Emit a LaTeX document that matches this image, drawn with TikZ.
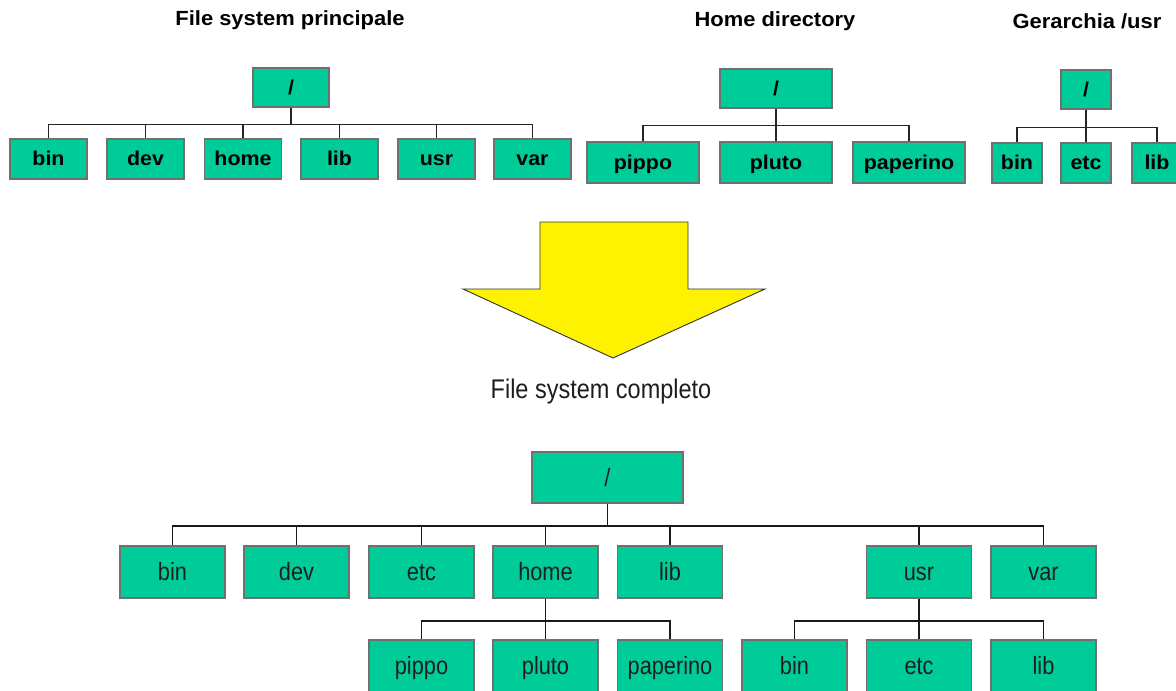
\documentclass[tikz,border=0pt]{standalone}
\usepackage{fontspec}
\setmainfont{Liberation Sans}
\newfontfamily\topfont[FakeStretch=1.07]{Liberation Sans}
\newfontfamily\botfont[FakeStretch=0.87]{Liberation Sans}
\usetikzlibrary{calc}
\definecolor{boxgreen}{RGB}{0,204,153}
\definecolor{boxgray}{RGB}{112,112,112}
\definecolor{txtgray}{RGB}{30,30,30}
\begin{document}
\begin{tikzpicture}[x=1pt,y=-1pt,
  fork/.style={to path={(\tikztostart) -- ++(0,#1) -| (\tikztotarget)}},
  tbox/.style={draw=boxgray,fill=boxgreen,line width=1.2pt,inner sep=0pt,
    minimum height=39pt,text height=14.4pt,text depth=0.6pt,
    font=\topfont\bfseries\fontsize{20}{24}\selectfont},
  bbox/.style={draw=boxgray,fill=boxgreen,line width=1.5pt,inner sep=0pt,
    minimum width=105pt,minimum height=52pt,text height=18pt,text depth=0.8pt,
    text=txtgray,font=\botfont\fontsize{25}{30}\selectfont},
  title/.style={font=\topfont\bfseries\fontsize{20.5}{24}\selectfont,inner sep=0pt},
  tline/.style={line width=1.5pt,draw=black!85},
  bline/.style={line width=1.9pt,draw=black!90}
]
\useasboundingbox (0,0) rectangle (1176,691);
\fill[white] (0,0) rectangle (1176,691);

% ---------- Top tree 1 ----------
\node[title] (t1) at (290,20) {File system principale};
\node[tbox,minimum width=76pt] (r1) at (291,87.5) {/};
\foreach \n/\x/\lab in {a1/48.5/bin,a2/145.5/dev,a3/243/home,a4/339.5/lib,a5/436.5/usr,a6/532.5/var}
  \node[tbox,minimum width=77pt,minimum height=40pt] (\n) at (\x,159) {\lab};
\foreach \n in {a1,a2,a3,a4,a5,a6}
  \draw[tline] (r1.south) edge[fork=17] (\n.north);

% ---------- Top tree 2 ----------
\node[title] (t2) at (775,21) {Home directory};
\node[tbox,minimum width=112pt] (r2) at (776,88.5) {/};
\foreach \n/\x/\lab in {p1/643/pippo,p2/776/pluto,p3/909/paperino}
  \node[tbox,minimum width=112pt,minimum height=41pt] (\n) at (\x,162.5) {\lab};
\foreach \n in {p1,p2,p3}
  \draw[tline] (r2.south) edge[fork=17] (\n.north);

% ---------- Top tree 3 ----------
\node[title] (t3) at (1087,21) {Gerarchia /usr};
\node[tbox,minimum width=50pt] (r3) at (1086,89.5) {/};
\foreach \n/\x/\lab in {u1/1017/bin,u2/1086/etc,u3/1157/lib}
  \node[tbox,minimum width=50pt,minimum height=40pt] (\n) at (\x,163) {\lab};
\foreach \n in {u1,u2,u3}
  \draw[tline] (r3.south) edge[fork=18] (\n.north);

% ---------- Arrow ----------
\draw[fill=yellow,draw=black!80,line width=0.9pt,line join=miter]
  (540,222) -- (688,222) -- (688,289) -- (765,289) -- (613,358)
  -- (463,289) -- (540,289) -- cycle;
\node[font=\botfont\fontsize{27}{32}\selectfont,text=txtgray,inner sep=0pt] (fc) at (601,392) {File system completo};

% ---------- Bottom tree ----------
\node[bbox,minimum width=151pt,minimum height=51pt] (R) at (607.5,477.5) {/};
\foreach \n/\x/\lab in {Bbin/172.5/bin,Bdev/296.5/dev,Betc/421.5/etc,Bhome/545.5/home,Blib/670/lib,Busr/919/usr,Bvar/1043.5/var}
  \node[bbox] (\n) at (\x,572) {\lab};
\foreach \n in {Bbin,Bdev,Betc,Bhome,Blib,Busr,Bvar}
  \draw[bline] (R.south) edge[fork=22] (\n.north);

\foreach \n/\x/\lab in {Hpippo/421.5/pippo,Hpluto/545.5/pluto,Hpaperino/670/paperino}
  \node[bbox] (\n) at (\x,666) {\lab};
\foreach \n in {Hpippo,Hpluto,Hpaperino}
  \draw[bline] (Bhome.south) edge[fork=22] (\n.north);

\foreach \n/\x/\lab in {Ubin/794.5/bin,Uetc/919/etc,Ulib/1043.5/lib}
  \node[bbox] (\n) at (\x,666) {\lab};
\foreach \n in {Ubin,Uetc,Ulib}
  \draw[bline] (Busr.south) edge[fork=22] (\n.north);
\end{tikzpicture}
\end{document}
